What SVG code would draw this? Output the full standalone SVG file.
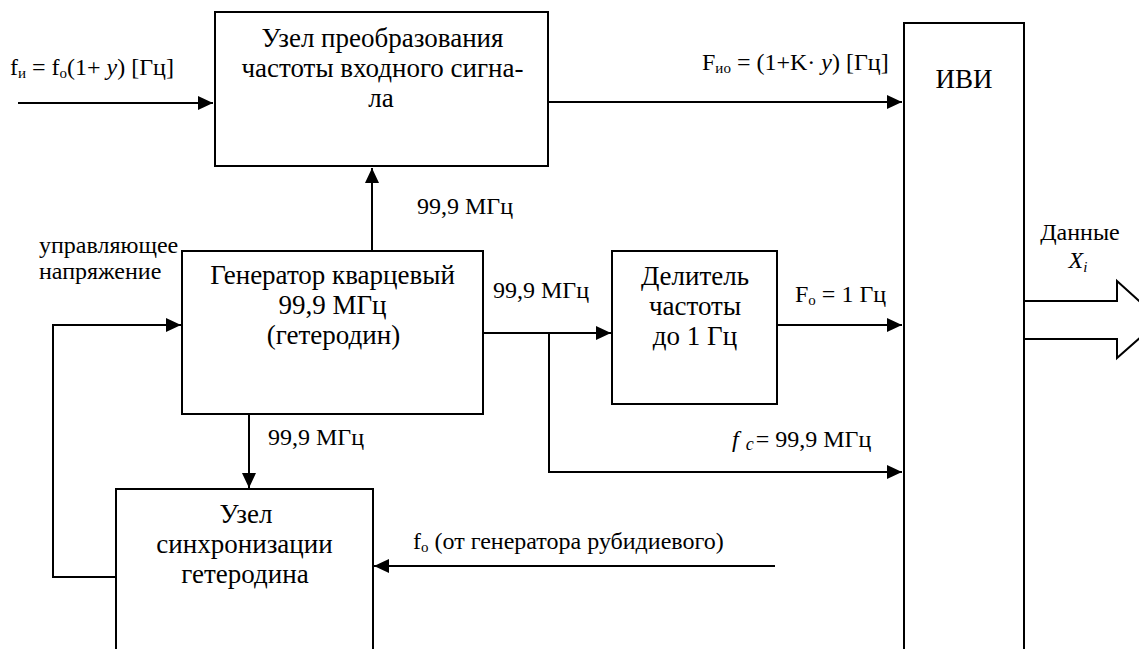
<svg xmlns="http://www.w3.org/2000/svg" width="1139" height="649" viewBox="0 0 1139 649">
<style>
text{font-family:"Liberation Serif","Times New Roman",serif;font-size:24px;fill:#000}
.b{font-size:27px;text-anchor:middle}
.c{text-anchor:middle}
.box{fill:#fff;stroke:#000;stroke-width:2}
.ln{fill:none;stroke:#000;stroke-width:2}
.it{font-style:italic}
.sub{font-size:15px}
</style>
<defs>
<marker id="ah" markerUnits="userSpaceOnUse" markerWidth="16" markerHeight="14" refX="15" refY="7" orient="auto">
<path d="M0,0 L15,7 L0,14 z" fill="#000"/>
</marker>
</defs>
<rect width="1139" height="649" fill="#fff"/>
<g id="connectors">
<path class="ln" d="M18,103 H213" marker-end="url(#ah)"/>
<path class="ln" d="M548,102 H902" marker-end="url(#ah)"/>
<path class="ln" d="M372,251 V168" marker-end="url(#ah)"/>
<path class="ln" d="M483,333 H611" marker-end="url(#ah)"/>
<path class="ln" d="M549,333 V472 H902" marker-end="url(#ah)"/>
<path class="ln" d="M777,325 H902" marker-end="url(#ah)"/>
<path class="ln" d="M249,414 V488" marker-end="url(#ah)"/>
<path class="ln" d="M116,577 H53 V325 H181" marker-end="url(#ah)"/>
<path class="ln" d="M775,566 H374" marker-end="url(#ah)"/>
<path d="M1024,301 H1117 V281 L1160,320 L1117,358 V339 H1024" fill="#fff" stroke="#000" stroke-width="2"/>
</g>
<g id="converter">
<rect class="box" x="215" y="12" width="333" height="154"/>
<text class="b" x="382.5" y="47">Узел преобразования</text>
<text class="b" x="382.5" y="77">частоты  входного сигна-</text>
<text class="b" x="381" y="107">ла</text>
</g>
<g id="ivi">
<rect class="box" x="904" y="23" width="120" height="660"/>
<text class="b" x="964" y="88">ИВИ</text>
</g>
<g id="generator">
<rect class="box" x="182" y="251" width="301" height="163"/>
<text class="b" x="332.5" y="284">Генератор кварцевый</text>
<text class="b" x="332.5" y="314">99,9 МГц</text>
<text class="b" x="333.5" y="344">(гетеродин)</text>
</g>
<g id="divider">
<rect class="box" x="612" y="251" width="165" height="153"/>
<text class="b" x="695" y="285">Делитель</text>
<text class="b" x="695" y="315">частоты</text>
<text class="b" x="695" y="345">до 1 Гц</text>
</g>
<g id="sync">
<rect class="box" x="116" y="489" width="257" height="200"/>
<text class="b" x="246" y="523">Узел</text>
<text class="b" x="244.5" y="553">синхронизации</text>
<text class="b" x="245" y="583">гетеродина</text>
</g>
<g id="labels">
<text x="10" y="75">f<tspan class="sub" dy="3">и</tspan><tspan dy="-3"> = f</tspan><tspan class="sub" dy="3">о</tspan><tspan dy="-3">(1+ </tspan><tspan class="it">y</tspan>) [Гц]</text>
<text x="702" y="70">F<tspan class="sub" dy="3">ио</tspan><tspan dy="-3"> = (1+K· </tspan><tspan class="it">y</tspan>) [Гц]</text>
<text x="417" y="214">99,9 МГц</text>
<text x="39" y="253">управляющее</text>
<text x="39" y="279">напряжение</text>
<text x="493" y="298">99,9 МГц</text>
<text x="795" y="302">F<tspan class="sub" dy="3">о</tspan><tspan dy="-3"> = 1 Гц</tspan></text>
<text x="268" y="445">99,9 МГц</text>
<text x="732" y="447" font-size="25"><tspan class="it">f</tspan><tspan class="it" font-size="18" dx="7" dy="3">c</tspan><tspan dx="2" dy="-3">= 99,9 МГц</tspan></text>
<text x="413" y="549" font-size="25">f<tspan class="sub" dy="3">о</tspan><tspan dy="-3"> (от генератора рубидиевого)</tspan></text>
<text class="c" x="1080" y="240" font-size="25">Данные</text>
<text class="c" x="1078" y="268" font-size="25"><tspan class="it">X</tspan><tspan class="it sub" dy="4">i</tspan></text>
</g>
</svg>
